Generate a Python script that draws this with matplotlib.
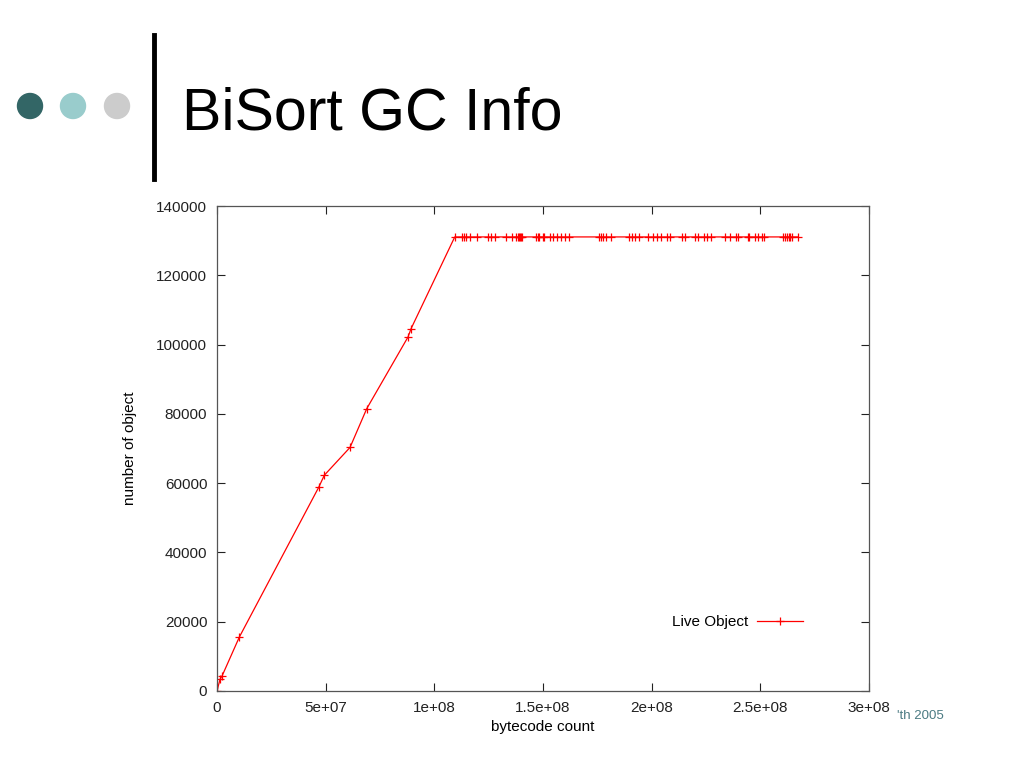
import matplotlib
matplotlib.use("Agg")
import matplotlib.pyplot as plt
from matplotlib.patches import Circle
from matplotlib.lines import Line2D

plt.rcParams["font.family"] = ["Liberation Sans", "DejaVu Sans"]

# bytecode count (in units of 1e6) and live object count
ramp_x = [0.0, 1.4, 2.3, 10.3, 46.8, 49.4, 61.2, 68.9, 87.9, 89.3, 109.4]
ramp_y = [0, 3400, 4300, 15600, 58800, 62300, 70300, 81500, 102200, 104600, 131072]
plateau_x = [112.6, 113.8, 114.7, 116.4, 119.6, 124.8, 125.9, 127.9, 132.8, 135.9,
             137.7, 138.4, 138.8, 139.3, 139.7, 140.3, 146.9, 147.6, 148.3, 150.1,
             150.6, 153.2, 154.7, 156.3, 158.4, 160.1, 162.1, 175.8, 176.7, 177.7,
             178.8, 181.2, 189.6, 191.0, 192.2, 194.0, 198.2, 200.7, 202.4, 204.4,
             207.0, 208.4, 213.8, 215.3, 219.8, 221.5, 224.2, 225.3, 227.2, 233.9,
             235.9, 238.8, 239.6, 244.5, 244.8, 247.5, 248.8, 250.6, 251.7, 260.4,
             261.3, 262.1, 263.0, 263.8, 264.4, 267.5]
plateau_value = 131072

x_ticks = [0, 5e7, 1e8, 1.5e8, 2e8, 2.5e8, 3e8]
x_tick_labels = ["0", "5e+07", "1e+08", "1.5e+08", "2e+08", "2.5e+08", "3e+08"]
y_ticks = [0, 20000, 40000, 60000, 80000, 100000, 120000, 140000]

xs = [v * 1e6 for v in ramp_x + plateau_x]
ys = ramp_y + [plateau_value] * len(plateau_x)

fig = plt.figure(figsize=(10.24, 7.68), dpi=100)
fig.patch.set_facecolor("white")

# slide decoration: three dots, vertical bar, title
deco = fig.add_axes([0, 0, 1, 1], zorder=0)
deco.set_xlim(0, 1024); deco.set_ylim(768, 0); deco.axis("off")
for cx, col in [(30, "#336666"), (73, "#99cccc"), (117, "#cccccc")]:
    deco.add_patch(Circle((cx, 106), 12.5, color=col))
deco.add_line(Line2D([154, 154], [35, 179], color="black", lw=3.5))
deco.text(182, 130, "BiSort GC Info", fontsize=42.5, ha="left", va="baseline")
deco.text(897, 719, "'th 2005", fontsize=9.5, color="#4a7a82", ha="left", va="baseline")

ax = fig.add_axes([217 / 1024, 77 / 768, 652 / 1024, 485 / 768], zorder=1)
ax.plot(xs, ys, color="#ff0000", lw=0.9, marker="+", markersize=6,
        markeredgewidth=0.9, label="Live Object")
ax.set_xlim(0, 3e8)
ax.set_ylim(0, 140000)
ax.set_xticks(x_ticks)
ax.set_xticklabels(x_tick_labels)
ax.set_yticks(y_ticks)
ax.set_yticklabels([str(v) for v in y_ticks])
ax.tick_params(direction="in", top=True, right=True, length=6, width=0.8,
               labelsize=11, colors="#222222", pad=7)
for s in ax.spines.values():
    s.set_color("#555555"); s.set_linewidth(0.9)
ax.set_xlabel("bytecode count", fontsize=11, labelpad=4)
ax.set_ylabel("number of object", fontsize=11, labelpad=14)
ax.legend(loc="center right", bbox_to_anchor=(0.92, 0.142), frameon=False,
          markerfirst=False, handlelength=3.0, fontsize=11, handletextpad=0.6)

fig.savefig("out.png", dpi=100, facecolor="white")
